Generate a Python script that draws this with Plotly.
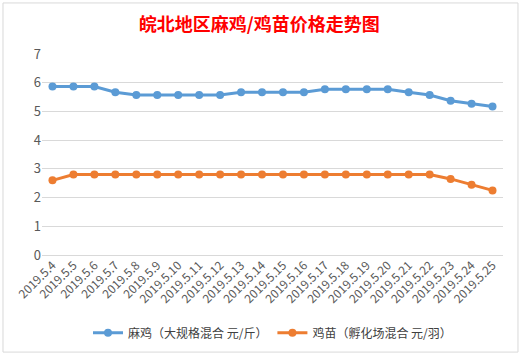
import plotly.graph_objects as go

dates = ["2019.5.4", "2019.5.5", "2019.5.6", "2019.5.7", "2019.5.8", "2019.5.9", "2019.5.10",
         "2019.5.11", "2019.5.12", "2019.5.13", "2019.5.14", "2019.5.15", "2019.5.16", "2019.5.17",
         "2019.5.18", "2019.5.19", "2019.5.20", "2019.5.21", "2019.5.22", "2019.5.23", "2019.5.24",
         "2019.5.25"]
mj = [5.87, 5.87, 5.87, 5.67, 5.57, 5.57, 5.57, 5.57, 5.57, 5.67, 5.67, 5.67, 5.67, 5.77,
      5.77, 5.77, 5.77, 5.67, 5.57, 5.37, 5.27, 5.17]
jm = [2.6, 2.8, 2.8, 2.8, 2.8, 2.8, 2.8, 2.8, 2.8, 2.8, 2.8, 2.8, 2.8, 2.8, 2.8, 2.8, 2.8,
      2.8, 2.8, 2.65, 2.45, 2.25]
yticks = [0, 1, 2, 3, 4, 5, 6, 7]
name_mj = "麻鸡（大规格混合 元/斤）"
name_jm = "鸡苗（孵化场混合 元/羽）"
title = "皖北地区麻鸡/鸡苗价格走势图"

FONT = "Microsoft YaHei, Noto Sans CJK SC, sans-serif"

fig = go.Figure()
fig.add_trace(go.Scatter(x=dates, y=mj, name=name_mj, mode="lines+markers",
                         line=dict(color="#5B9BD5", width=3),
                         marker=dict(color="#5B9BD5", size=8)))
fig.add_trace(go.Scatter(x=dates, y=jm, name=name_jm, mode="lines+markers",
                         line=dict(color="#ED7D31", width=3),
                         marker=dict(color="#ED7D31", size=8)))

fig.update_layout(
    width=529, height=355,
    margin=dict(l=42, r=26, t=54, b=100, autoexpand=False),
    paper_bgcolor="white", plot_bgcolor="white",
    font=dict(family=FONT, color="#595959", size=12),
    title=dict(text=title, x=0.49, xanchor="center", y=0.93, yanchor="middle",
               font=dict(family=FONT, size=18, color="#FF0000", weight="bold")),
    xaxis=dict(type="category", range=[-0.5, len(dates) - 0.5], tickangle=-45,
               showgrid=False, showline=False, zeroline=False, automargin=False,
               tickfont=dict(size=12, color="#595959"), ticks=""),
    yaxis=dict(range=[0, 7], tickvals=yticks, showgrid=True, gridcolor="#D9D9D9",
               gridwidth=1, zeroline=True, zerolinecolor="#D9D9D9", zerolinewidth=1,
               showline=False, automargin=False,
               tickfont=dict(size=13, color="#595959"), ticksuffix="    "),
    legend=dict(orientation="h", x=0.5, xanchor="center", y=-0.315, yanchor="top",
                font=dict(size=12, color="#404040"), itemwidth=30,
                bgcolor="rgba(0,0,0,0)"),
    showlegend=True,
)
fig.add_shape(type="rect", xref="paper", yref="paper", x0=-0.0846, x1=1.0325, y0=-0.483, y1=1.254,
              line=dict(color="#D9D9D9", width=1))

fig.write_html("out.html", config={"displayModeBar": False},
               post_script="document.body.style.margin='0';document.body.style.overflow='hidden';")
